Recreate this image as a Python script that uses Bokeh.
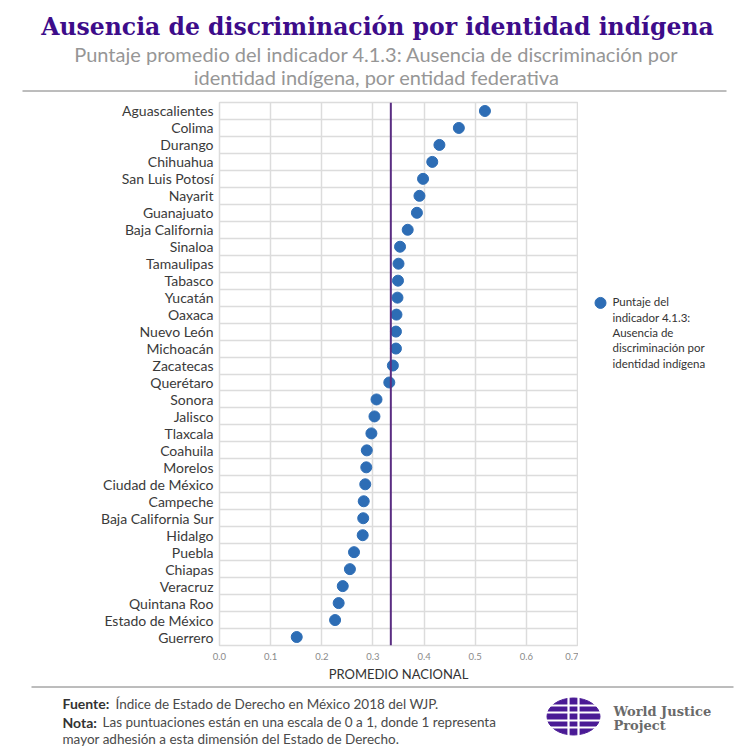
from bokeh.plotting import figure
from bokeh.layouts import column, row
from bokeh.models import Range1d, FixedTicker, Span
from bokeh.core.properties import value
from bokeh.embed import file_html
from bokeh.resources import INLINE

# Indicator 4.1.3 scores by state, highest first
states = [
    "Aguascalientes", "Colima", "Durango", "Chihuahua", "San Luis Potosí",
    "Nayarit", "Guanajuato", "Baja California", "Sinaloa", "Tamaulipas",
    "Tabasco", "Yucatán", "Oaxaca", "Nuevo León", "Michoacán", "Zacatecas",
    "Querétaro", "Sonora", "Jalisco", "Tlaxcala", "Coahuila", "Morelos",
    "Ciudad de México", "Campeche", "Baja California Sur", "Hidalgo",
    "Puebla", "Chiapas", "Veracruz", "Quintana Roo", "Estado de México",
    "Guerrero",
]
scores = [
    0.519, 0.468, 0.430, 0.416, 0.398,
    0.391, 0.386, 0.368, 0.353, 0.350,
    0.349, 0.348, 0.346, 0.345, 0.345, 0.339,
    0.332, 0.307, 0.303, 0.297, 0.288, 0.287,
    0.285, 0.282, 0.281, 0.280,
    0.263, 0.255, 0.241, 0.233, 0.226,
    0.151,
]
national_average = 0.335
x_ticks = [0.0, 0.1, 0.2, 0.3, 0.4, 0.5, 0.6, 0.7]
x_tick_labels = ["0.0", "0.1", "0.2", "0.3", "0.4", "0.5", "0.6", "0.7"]

TITLE = "Ausencia de discriminación por identidad indígena"
SUBTITLE = ["Puntaje promedio del indicador 4.1.3: Ausencia de discriminación por",
            "identidad indígena, por entidad federativa"]
LEGEND_LINES = ["Puntaje del", "indicador 4.1.3:", "Ausencia de",
                "discriminación por", "identidad indígena"]

PURPLE = "#3d0c8a"
DOT = "#2d6db5"
AVG_LINE = "#5a2d82"
GRID = "#dcdcdc"
SANS = "Lato"

CHART_TOP, CHART_BOTTOM = 92, 684      # page rows occupied by the chart row
FRAME_TOP, FRAME_BOTTOM = 102, 652     # plotting box inside it


def blank(width, height, y_range=None, **kw):
    f = figure(width=width, height=height, title=None, output_backend="svg",
               toolbar_location=None, x_axis_location=None, y_axis_location=None,
               x_range=Range1d(0, width),
               y_range=y_range if y_range is not None else Range1d(height, 0),
               outline_line_color=None, **kw)
    f.xgrid.visible = False
    f.ygrid.visible = False
    f.background_fill_color = "white"
    f.border_fill_color = "white"
    return f


# ---- header: title, subtitle and rule
header = blank(756, 92, min_border=0)
header.text(x=[377], y=[26], text=[TITLE], text_font=value("DejaVu Serif"),
            text_font_style="bold", text_font_size="23.5px", text_color=PURPLE,
            text_align="center", text_baseline="middle")
header.text(x=[376, 376], y=[53.5, 76.5], text=SUBTITLE, text_font=value(SANS),
            text_font_size="20px", text_color="#969696",
            text_align="center", text_baseline="middle")
header.segment(x0=[22], y0=[90.5], x1=[726], y1=[90.5], line_color="#7a7a7a", line_width=1)

# ---- main dot chart
n = len(states)
y_pos = [n - 1 - i for i in range(n)]

chart = figure(width=578, height=CHART_BOTTOM - CHART_TOP, title=None, output_backend="svg",
               toolbar_location=None,
               x_range=Range1d(0, 0.7), y_range=Range1d(-0.5, n - 0.5),
               min_border_left=219, min_border_right=1,
               min_border_top=FRAME_TOP - CHART_TOP,
               min_border_bottom=CHART_BOTTOM - FRAME_BOTTOM)
chart.background_fill_color = "white"
chart.border_fill_color = "white"
chart.outline_line_color = GRID
chart.outline_line_width = 1.5

chart.xaxis.ticker = FixedTicker(ticks=x_ticks)
chart.xaxis.major_label_overrides = {t: s for t, s in zip(x_ticks, x_tick_labels)}
chart.xaxis.axis_line_color = None
chart.xaxis.major_tick_line_color = None
chart.xaxis.minor_tick_line_color = None
chart.xaxis.major_label_standoff = 1
chart.xaxis.major_label_text_font = SANS
chart.xaxis.major_label_text_font_size = "9.5px"
chart.xaxis.major_label_text_color = "#8a8a8a"
chart.xaxis.axis_label = "PROMEDIO NACIONAL"
chart.xaxis.axis_label_standoff = 3
chart.xaxis.axis_label_text_font = SANS
chart.xaxis.axis_label_text_font_style = "normal"
chart.xaxis.axis_label_text_font_size = "13px"
chart.xaxis.axis_label_text_color = "#333333"

chart.yaxis.ticker = FixedTicker(ticks=y_pos)
chart.yaxis.major_label_overrides = {y: s for y, s in zip(y_pos, states)}
chart.yaxis.axis_line_color = None
chart.yaxis.major_tick_line_color = None
chart.yaxis.minor_tick_line_color = None
chart.yaxis.major_label_standoff = 0
chart.yaxis.major_label_text_font = SANS
chart.yaxis.major_label_text_font_size = "14px"
chart.yaxis.major_label_text_color = "#3a3a3a"

chart.xgrid.ticker = FixedTicker(ticks=x_ticks[1:-1])
chart.ygrid.ticker = FixedTicker(ticks=[k + 0.5 for k in range(n - 1)])
chart.xgrid.grid_line_color = GRID
chart.ygrid.grid_line_color = GRID
chart.xgrid.grid_line_width = 1.5
chart.ygrid.grid_line_width = 1.5

chart.add_layout(Span(location=national_average, dimension="height",
                      line_color=AVG_LINE, line_width=2))
chart.scatter(x=scores, y=y_pos, size=11, fill_color=DOT, line_color=DOT)

# ---- legend panel at the right of the chart (its box lines up with the chart's,
# so its vertical range is given in page pixels)
legend = blank(178, CHART_BOTTOM - CHART_TOP, y_range=Range1d(FRAME_BOTTOM, FRAME_TOP),
               min_border_left=0, min_border_right=0,
               min_border_top=FRAME_TOP - CHART_TOP,
               min_border_bottom=CHART_BOTTOM - FRAME_BOTTOM)
legend.scatter(x=[22], y=[305], size=11, fill_color=DOT, line_color=DOT)
legend.text(x=[34] * len(LEGEND_LINES), y=[304 + 15.5 * k for k in range(len(LEGEND_LINES))],
            text=LEGEND_LINES, text_font=value(SANS), text_font_size="11.5px",
            text_color="#333333", text_align="left", text_baseline="middle")

# ---- footer: source, note and logo
footer = blank(756, 72, min_border=0)
footer.segment(x0=[31], y0=[2.5], x1=[733], y1=[2.5], line_color="#7a7a7a", line_width=1)
footer.text(x=[62, 62], y=[19, 37.5], text=["Fuente:", "Nota:"], text_font=value(SANS),
            text_font_style="bold", text_font_size="14px", text_color="#333333",
            text_align="left", text_baseline="middle")
footer.text(x=[115, 102, 62], y=[19, 37.5, 54.5],
            text=["Índice de Estado de Derecho en México 2018  del WJP.",
                  "Las puntuaciones están en una escala de 0 a 1, donde 1 representa",
                  "mayor adhesión a esta dimensión del Estado de Derecho."],
            text_font=value(SANS), text_font_size="13.5px", text_color="#4a4a4a",
            text_align="left", text_baseline="middle")

# globe mark
LOGO = "#4a1a95"
cx, cy = 573, 32
footer.ellipse(x=[cx], y=[cy], width=[53], height=[37], fill_color=LOGO, line_color=LOGO)
footer.segment(x0=[cx - 30] * 4, y0=[cy - 11, cy - 4, cy + 4, cy + 11],
               x1=[cx + 30] * 4, y1=[cy - 11, cy - 4, cy + 4, cy + 11],
               line_color="white", line_width=2.2)
footer.segment(x0=[cx - 5, cx + 5], y0=[cy - 20, cy - 20], x1=[cx - 5, cx + 5], y1=[cy + 20, cy + 20],
               line_color="white", line_width=2.2)
footer.text(x=[613, 613], y=[27, 41], text=["World Justice", "Project"],
            text_font=value("DejaVu Serif"), text_font_style="bold", text_font_size="13px",
            text_color="#6a6a6a", text_align="left", text_baseline="middle")

layout = column(header, row(chart, legend, spacing=0), footer, spacing=0)

with open("out.html", "w") as fh:
    fh.write(file_html(layout, INLINE))
